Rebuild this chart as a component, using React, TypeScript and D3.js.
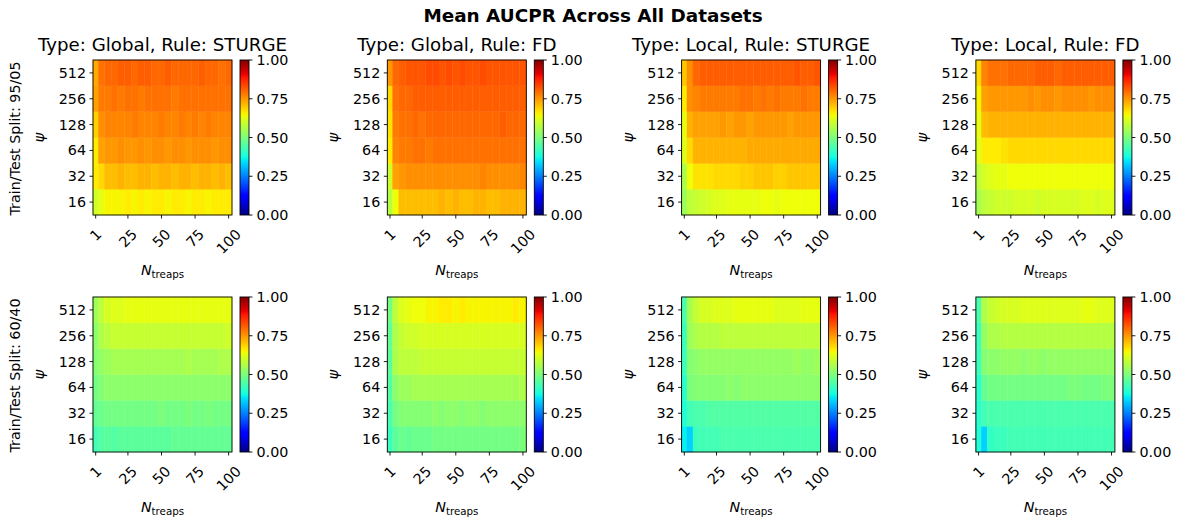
import React from "react";
import * as d3 from "d3";

// ---------------- data ----------------
const N_TREAPS = [1, 5, 10, 15, 20, 25, 30, 35, 40, 45, 50, 55, 60, 65, 70, 75, 80, 85, 90, 95, 100];
const PSI = [16, 32, 64, 128, 256, 512];
const X_TICKS = [1, 25, 50, 75, 100];
const CB_TICKS = [0, 0.25, 0.5, 0.75, 1];
const COL_TITLES = ["Type: Global, Rule: STURGE", "Type: Global, Rule: FD", "Type: Local, Rule: STURGE", "Type: Local, Rule: FD"];
const ROW_LABELS = ["Train/Test Split: 95/05", "Train/Test Split: 60/40"];
const SUPTITLE = "Mean AUCPR Across All Datasets";

// rows ordered by PSI (16 ... 512), columns by N_TREAPS
const globalSturge95 = [
  [0.60, 0.63, 0.65, 0.65, 0.65, 0.66, 0.65, 0.66, 0.65, 0.66, 0.66, 0.65, 0.66, 0.66, 0.65, 0.66, 0.66, 0.65, 0.66, 0.66, 0.66],
  [0.66, 0.68, 0.71, 0.71, 0.72, 0.71, 0.71, 0.72, 0.72, 0.71, 0.72, 0.72, 0.71, 0.72, 0.72, 0.71, 0.72, 0.72, 0.71, 0.72, 0.71],
  [0.66, 0.74, 0.75, 0.75, 0.76, 0.75, 0.75, 0.76, 0.75, 0.76, 0.76, 0.75, 0.76, 0.76, 0.75, 0.76, 0.76, 0.76, 0.75, 0.76, 0.76],
  [0.69, 0.76, 0.77, 0.77, 0.77, 0.77, 0.78, 0.77, 0.77, 0.77, 0.78, 0.77, 0.77, 0.78, 0.77, 0.78, 0.77, 0.78, 0.77, 0.77, 0.77],
  [0.74, 0.78, 0.78, 0.79, 0.78, 0.79, 0.79, 0.78, 0.79, 0.79, 0.79, 0.79, 0.78, 0.79, 0.79, 0.79, 0.79, 0.79, 0.79, 0.79, 0.79],
  [0.73, 0.79, 0.80, 0.80, 0.81, 0.81, 0.80, 0.81, 0.81, 0.80, 0.80, 0.81, 0.80, 0.80, 0.80, 0.80, 0.81, 0.80, 0.80, 0.79, 0.80],
];
const globalFd95 = [
  [0.57, 0.64, 0.71, 0.71, 0.71, 0.71, 0.71, 0.71, 0.72, 0.71, 0.72, 0.71, 0.71, 0.72, 0.72, 0.71, 0.71, 0.72, 0.72, 0.72, 0.72],
  [0.60, 0.74, 0.75, 0.76, 0.76, 0.76, 0.76, 0.76, 0.76, 0.76, 0.76, 0.76, 0.76, 0.76, 0.77, 0.76, 0.76, 0.76, 0.76, 0.76, 0.77],
  [0.66, 0.77, 0.78, 0.78, 0.79, 0.79, 0.78, 0.79, 0.79, 0.79, 0.79, 0.79, 0.79, 0.79, 0.79, 0.79, 0.79, 0.79, 0.79, 0.79, 0.79],
  [0.67, 0.78, 0.79, 0.79, 0.80, 0.79, 0.80, 0.80, 0.80, 0.80, 0.80, 0.80, 0.80, 0.80, 0.80, 0.80, 0.80, 0.81, 0.80, 0.80, 0.80],
  [0.68, 0.79, 0.80, 0.80, 0.81, 0.81, 0.81, 0.81, 0.81, 0.81, 0.81, 0.81, 0.81, 0.81, 0.81, 0.81, 0.81, 0.81, 0.81, 0.81, 0.81],
  [0.75, 0.80, 0.81, 0.82, 0.82, 0.82, 0.83, 0.83, 0.82, 0.83, 0.82, 0.83, 0.82, 0.82, 0.83, 0.82, 0.82, 0.82, 0.82, 0.82, 0.82],
];
const localSturge95 = [
  [0.54, 0.58, 0.59, 0.60, 0.61, 0.62, 0.62, 0.63, 0.63, 0.63, 0.63, 0.63, 0.64, 0.64, 0.63, 0.64, 0.64, 0.64, 0.64, 0.64, 0.64],
  [0.56, 0.64, 0.67, 0.67, 0.67, 0.68, 0.68, 0.68, 0.68, 0.69, 0.69, 0.70, 0.70, 0.70, 0.69, 0.69, 0.70, 0.70, 0.70, 0.70, 0.70],
  [0.62, 0.68, 0.72, 0.72, 0.72, 0.72, 0.72, 0.72, 0.72, 0.72, 0.73, 0.73, 0.73, 0.73, 0.73, 0.73, 0.73, 0.73, 0.73, 0.73, 0.73],
  [0.63, 0.72, 0.74, 0.74, 0.74, 0.74, 0.75, 0.74, 0.75, 0.75, 0.74, 0.75, 0.75, 0.75, 0.75, 0.75, 0.74, 0.75, 0.75, 0.75, 0.75],
  [0.66, 0.76, 0.77, 0.78, 0.78, 0.78, 0.78, 0.78, 0.78, 0.79, 0.79, 0.78, 0.79, 0.78, 0.79, 0.78, 0.78, 0.78, 0.79, 0.78, 0.78],
  [0.70, 0.76, 0.80, 0.81, 0.81, 0.81, 0.81, 0.81, 0.81, 0.81, 0.81, 0.81, 0.81, 0.81, 0.81, 0.81, 0.81, 0.82, 0.81, 0.81, 0.82],
];
const localFd95 = [
  [0.55, 0.58, 0.59, 0.60, 0.60, 0.60, 0.61, 0.61, 0.61, 0.60, 0.61, 0.61, 0.61, 0.61, 0.61, 0.61, 0.62, 0.62, 0.61, 0.62, 0.62],
  [0.58, 0.61, 0.62, 0.63, 0.63, 0.64, 0.64, 0.64, 0.64, 0.64, 0.64, 0.64, 0.64, 0.64, 0.64, 0.64, 0.64, 0.64, 0.64, 0.64, 0.64],
  [0.62, 0.66, 0.66, 0.66, 0.67, 0.68, 0.68, 0.68, 0.68, 0.68, 0.68, 0.68, 0.68, 0.68, 0.68, 0.68, 0.68, 0.68, 0.68, 0.68, 0.68],
  [0.63, 0.71, 0.72, 0.72, 0.72, 0.72, 0.72, 0.72, 0.72, 0.72, 0.72, 0.72, 0.72, 0.72, 0.72, 0.72, 0.72, 0.72, 0.72, 0.72, 0.72],
  [0.65, 0.74, 0.75, 0.75, 0.75, 0.75, 0.75, 0.75, 0.76, 0.75, 0.76, 0.76, 0.75, 0.76, 0.76, 0.76, 0.76, 0.75, 0.76, 0.76, 0.76],
  [0.68, 0.77, 0.79, 0.79, 0.79, 0.80, 0.80, 0.80, 0.80, 0.81, 0.81, 0.81, 0.80, 0.81, 0.81, 0.81, 0.81, 0.81, 0.81, 0.81, 0.81],
];
const globalSturge60 = [
  [0.43, 0.45, 0.46, 0.45, 0.46, 0.46, 0.46, 0.46, 0.46, 0.46, 0.46, 0.46, 0.47, 0.47, 0.47, 0.47, 0.47, 0.47, 0.47, 0.47, 0.47],
  [0.47, 0.48, 0.49, 0.49, 0.49, 0.49, 0.49, 0.49, 0.49, 0.49, 0.50, 0.49, 0.49, 0.49, 0.50, 0.49, 0.49, 0.50, 0.49, 0.49, 0.49],
  [0.49, 0.51, 0.52, 0.52, 0.52, 0.52, 0.52, 0.52, 0.52, 0.52, 0.52, 0.52, 0.52, 0.52, 0.52, 0.52, 0.52, 0.52, 0.52, 0.52, 0.52],
  [0.51, 0.53, 0.54, 0.55, 0.55, 0.55, 0.55, 0.55, 0.55, 0.55, 0.55, 0.55, 0.55, 0.55, 0.56, 0.55, 0.55, 0.55, 0.55, 0.56, 0.56],
  [0.52, 0.56, 0.58, 0.59, 0.59, 0.59, 0.59, 0.59, 0.59, 0.59, 0.59, 0.59, 0.59, 0.59, 0.59, 0.59, 0.59, 0.59, 0.59, 0.59, 0.60],
  [0.54, 0.58, 0.61, 0.62, 0.62, 0.63, 0.63, 0.63, 0.63, 0.63, 0.63, 0.63, 0.63, 0.63, 0.63, 0.63, 0.63, 0.63, 0.63, 0.63, 0.63],
];
const globalFd60 = [
  [0.42, 0.46, 0.48, 0.47, 0.48, 0.48, 0.48, 0.49, 0.49, 0.49, 0.49, 0.49, 0.49, 0.49, 0.49, 0.49, 0.49, 0.49, 0.49, 0.49, 0.50],
  [0.44, 0.49, 0.51, 0.51, 0.51, 0.51, 0.51, 0.52, 0.51, 0.52, 0.52, 0.51, 0.52, 0.52, 0.51, 0.52, 0.52, 0.52, 0.52, 0.52, 0.52],
  [0.45, 0.52, 0.54, 0.54, 0.55, 0.55, 0.55, 0.55, 0.55, 0.55, 0.55, 0.55, 0.55, 0.55, 0.55, 0.55, 0.55, 0.55, 0.55, 0.55, 0.56],
  [0.46, 0.56, 0.58, 0.58, 0.58, 0.59, 0.59, 0.59, 0.59, 0.59, 0.59, 0.59, 0.59, 0.59, 0.59, 0.59, 0.59, 0.59, 0.59, 0.59, 0.59],
  [0.47, 0.56, 0.59, 0.60, 0.60, 0.61, 0.61, 0.61, 0.61, 0.61, 0.61, 0.61, 0.61, 0.61, 0.61, 0.61, 0.61, 0.61, 0.61, 0.61, 0.61],
  [0.49, 0.58, 0.62, 0.63, 0.64, 0.64, 0.65, 0.65, 0.66, 0.66, 0.65, 0.66, 0.65, 0.65, 0.65, 0.65, 0.65, 0.65, 0.65, 0.66, 0.65],
];
const localSturge60 = [
  [0.36, 0.33, 0.42, 0.43, 0.43, 0.43, 0.44, 0.44, 0.44, 0.44, 0.44, 0.44, 0.44, 0.44, 0.44, 0.44, 0.44, 0.44, 0.44, 0.44, 0.44],
  [0.39, 0.43, 0.44, 0.44, 0.45, 0.45, 0.45, 0.45, 0.45, 0.45, 0.45, 0.45, 0.45, 0.45, 0.45, 0.45, 0.45, 0.45, 0.45, 0.45, 0.45],
  [0.40, 0.50, 0.51, 0.51, 0.51, 0.51, 0.51, 0.52, 0.51, 0.52, 0.52, 0.52, 0.52, 0.52, 0.52, 0.52, 0.52, 0.52, 0.52, 0.52, 0.52],
  [0.42, 0.51, 0.52, 0.53, 0.53, 0.53, 0.53, 0.53, 0.53, 0.53, 0.53, 0.53, 0.53, 0.53, 0.53, 0.53, 0.53, 0.54, 0.53, 0.53, 0.54],
  [0.42, 0.54, 0.56, 0.57, 0.57, 0.57, 0.58, 0.58, 0.58, 0.58, 0.58, 0.58, 0.58, 0.58, 0.58, 0.58, 0.58, 0.58, 0.58, 0.58, 0.58],
  [0.44, 0.55, 0.59, 0.61, 0.61, 0.62, 0.62, 0.62, 0.63, 0.63, 0.63, 0.63, 0.63, 0.63, 0.62, 0.62, 0.62, 0.62, 0.63, 0.63, 0.63],
];
const localFd60 = [
  [0.39, 0.33, 0.41, 0.42, 0.42, 0.43, 0.43, 0.43, 0.43, 0.43, 0.43, 0.43, 0.43, 0.43, 0.43, 0.43, 0.43, 0.43, 0.43, 0.43, 0.43],
  [0.40, 0.43, 0.44, 0.44, 0.44, 0.44, 0.44, 0.44, 0.44, 0.44, 0.44, 0.44, 0.44, 0.44, 0.44, 0.44, 0.44, 0.44, 0.44, 0.44, 0.44],
  [0.40, 0.47, 0.49, 0.49, 0.49, 0.49, 0.49, 0.49, 0.49, 0.49, 0.49, 0.49, 0.49, 0.49, 0.50, 0.50, 0.49, 0.49, 0.49, 0.50, 0.50],
  [0.42, 0.51, 0.52, 0.52, 0.53, 0.53, 0.53, 0.52, 0.53, 0.53, 0.52, 0.53, 0.53, 0.53, 0.53, 0.53, 0.53, 0.53, 0.53, 0.53, 0.53],
  [0.42, 0.53, 0.56, 0.56, 0.57, 0.57, 0.57, 0.57, 0.57, 0.57, 0.57, 0.57, 0.57, 0.57, 0.57, 0.57, 0.57, 0.57, 0.57, 0.57, 0.57],
  [0.44, 0.56, 0.59, 0.60, 0.61, 0.61, 0.61, 0.62, 0.62, 0.62, 0.62, 0.62, 0.62, 0.62, 0.62, 0.62, 0.63, 0.63, 0.62, 0.62, 0.62],
];

const PANELS = [
  [globalSturge95, globalFd95, localSturge95, localFd95],
  [globalSturge60, globalFd60, localSturge60, localFd60],
];

// ---------------- styling / layout ----------------
const W = 1180;
const H = 521;
const FONT = "'DejaVu Sans', sans-serif";
const TICK_FS = 14.3;
const TITLE_FS = 18.2;
const AX_LEFT0 = 93;
const AX_STEP = 294.3;
const AX_W = 139;
const AX_TOPS = [60, 297];
const AX_H = 155;
const CB_GAP = 8;
const CB_W = 9;
const TICK_LEN = 3.5;

// matplotlib "jet" colormap built from d3 linear scales
const jetR = d3.scaleLinear().domain([0, 0.35, 0.66, 0.89, 1]).range([0, 0, 1, 1, 0.5]).clamp(true);
const jetG = d3.scaleLinear().domain([0, 0.125, 0.375, 0.64, 0.91, 1]).range([0, 0, 1, 1, 0, 0]).clamp(true);
const jetB = d3.scaleLinear().domain([0, 0.11, 0.34, 0.65, 1]).range([0.5, 1, 1, 0, 0]).clamp(true);
const jet = (v: number) => d3.rgb(jetR(v) * 255, jetG(v) * 255, jetB(v) * 255).formatHex();

// cell edges (nearest shading)
const EDGES: number[] = (() => {
  const n = N_TREAPS;
  const e = [n[0] - (n[1] - n[0]) / 2];
  for (let i = 0; i < n.length - 1; i++) e.push((n[i] + n[i + 1]) / 2);
  e.push(n[n.length - 1] + (n[n.length - 1] - n[n.length - 2]) / 2);
  return e;
})();

const GRAD_STOPS = d3.range(0, 1.0001, 0.01);

function Panel({ row, col }: { row: number; col: number }) {
  const data = PANELS[row][col];
  const x0 = AX_LEFT0 + col * AX_STEP;
  const y0 = AX_TOPS[row];
  const x = d3.scaleLinear().domain([EDGES[0], EDGES[EDGES.length - 1]]).range([x0, x0 + AX_W]);
  const y = d3.scaleBand<number>().domain([...PSI].reverse()).range([y0, y0 + AX_H]).padding(0);
  const cbX = x0 + AX_W + CB_GAP;
  const cbY = d3.scaleLinear().domain([0, 1]).range([y0 + AX_H, y0]);
  const bottom = y0 + AX_H;
  const cx = x0 + AX_W / 2;
  const gid = `jetgrad-${row}-${col}`;

  return (
    <g>
      <defs>
        <linearGradient id={gid} x1="0" y1="1" x2="0" y2="0">
          {GRAD_STOPS.map((s) => (
            <stop key={s} offset={s} stopColor={jet(s)} />
          ))}
        </linearGradient>
      </defs>
      {/* title (top row only) */}
      {row === 0 && (
        <text x={cx} y={y0 - 9} textAnchor="middle" fontSize={TITLE_FS} fill="#000">
          {COL_TITLES[col]}
        </text>
      )}
      {/* cells */}
      {data.map((vals, ri) =>
        vals.map((v, ci) => {
          const xa = x(EDGES[ci]);
          const xb = x(EDGES[ci + 1]);
          const c = jet(v);
          return (
            <rect
              key={`${ri}-${ci}`}
              x={xa}
              y={y(PSI[ri])!}
              width={xb - xa}
              height={y.bandwidth()}
              fill={c}
              stroke={c}
              strokeWidth={0.4}
            />
          );
        })
      )}
      <rect x={x0} y={y0} width={AX_W} height={AX_H} fill="none" stroke="#000" strokeWidth={0.9} />
      {/* y ticks */}
      {PSI.map((p) => {
        const yy = y(p)! + y.bandwidth() / 2;
        return (
          <g key={p}>
            <line x1={x0 - TICK_LEN} x2={x0} y1={yy} y2={yy} stroke="#000" strokeWidth={0.9} />
            <text x={x0 - 7} y={yy} textAnchor="end" dominantBaseline="central" fontSize={TICK_FS} fill="#000">
              {p}
            </text>
          </g>
        );
      })}
      {/* x ticks */}
      {X_TICKS.map((t) => {
        const xx = x(t);
        const w = String(t).length * 0.636 * TICK_FS;
        const h = 1.164 * TICK_FS;
        const cy = bottom + 11 + (w + h) * 0.3536;
        return (
          <g key={t}>
            <line x1={xx} x2={xx} y1={bottom} y2={bottom + TICK_LEN} stroke="#000" strokeWidth={0.9} />
            <text
              transform={`translate(${xx},${cy}) rotate(-45)`}
              textAnchor="middle"
              dominantBaseline="central"
              fontSize={TICK_FS}
              fill="#000"
            >
              {t}
            </text>
          </g>
        );
      })}
      {/* x label */}
      <text x={cx} y={bottom + 60} textAnchor="middle" fontSize={TICK_FS} fill="#000">
        <tspan fontStyle="italic">N</tspan>
        <tspan fontSize={TICK_FS * 0.72} dy={3}>treaps</tspan>
      </text>
      {/* y label */}
      <text
        transform={`translate(${x0 - 54},${y0 + AX_H / 2}) rotate(-90)`}
        textAnchor="middle"
        dominantBaseline="central"
        fontSize={TICK_FS}
        fontStyle="italic"
        fill="#000"
      >
        ψ
      </text>
      {col === 0 && (
        <text
          transform={`translate(${x0 - 78.5},${y0 + AX_H / 2 + 1}) rotate(-90)`}
          textAnchor="middle"
          dominantBaseline="central"
          fontSize={TICK_FS}
          fill="#000"
        >
          {ROW_LABELS[row]}
        </text>
      )}
      {/* colorbar */}
      <rect x={cbX} y={y0} width={CB_W} height={AX_H} fill={`url(#${gid})`} stroke="#000" strokeWidth={0.9} />
      {CB_TICKS.map((t) => {
        const yy = cbY(t);
        return (
          <g key={t}>
            <line x1={cbX + CB_W} x2={cbX + CB_W + TICK_LEN} y1={yy} y2={yy} stroke="#000" strokeWidth={0.9} />
            <text x={cbX + CB_W + 7.5} y={yy} dominantBaseline="central" fontSize={TICK_FS} fill="#000">
              {d3.format(".2f")(t)}
            </text>
          </g>
        );
      })}
    </g>
  );
}

export default function App() {
  return (
    <div style={{ position: "absolute", left: 0, top: 0, width: W, height: H, background: "#fff" }}>
      <svg width={W} height={H} viewBox={`0 0 ${W} ${H}`} style={{ display: "block", fontFamily: FONT }}>
        <rect x={0} y={0} width={W} height={H} fill="#fff" />
        <text x={W / 2 + 3} y={22} textAnchor="middle" fontSize={18.4} fontWeight="bold" fill="#000">
          {SUPTITLE}
        </text>
        {[0, 1].map((r) => [0, 1, 2, 3].map((c) => <Panel key={`${r}-${c}`} row={r} col={c} />))}
      </svg>
    </div>
  );
}
